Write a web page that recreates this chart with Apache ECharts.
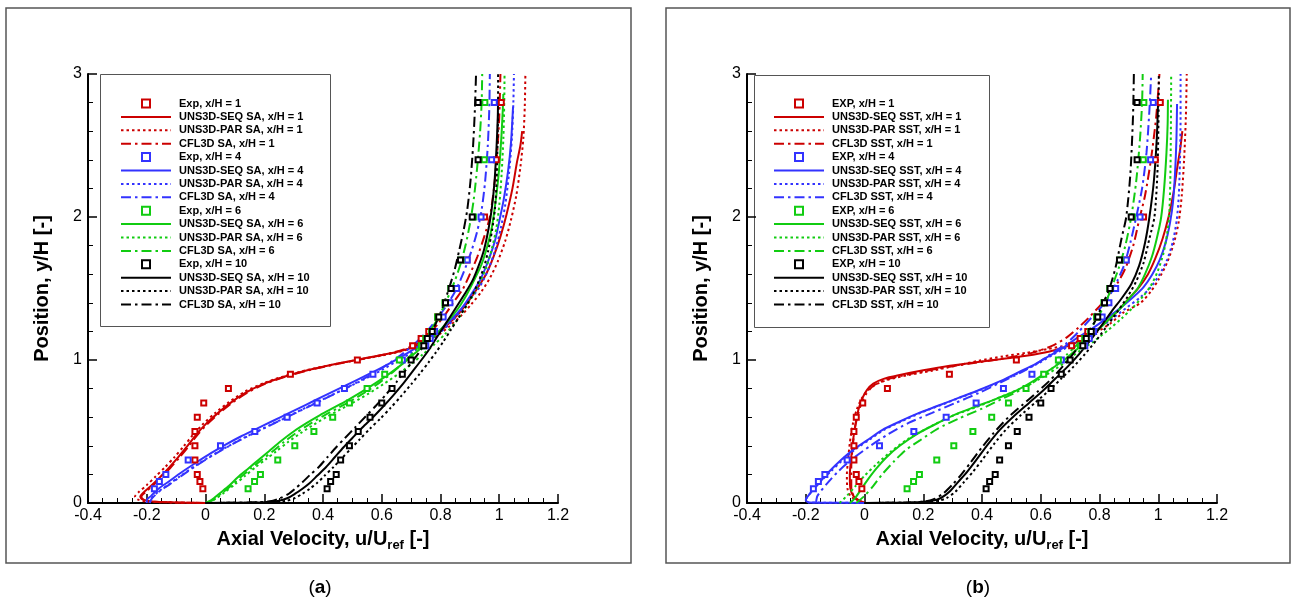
<!DOCTYPE html>
<html><head><meta charset="utf-8">
<script src="https://cdn.jsdelivr.net/npm/echarts@6/dist/echarts.min.js"></script>
<style>html,body{margin:0;padding:0;background:#fff}#c{width:1292px;height:608px}</style>
</head><body><div id="c"></div>
<script>
// ---------- axis ticks ----------
const xTicks = [-0.4, -0.2, 0, 0.2, 0.4, 0.6, 0.8, 1, 1.2];
const yTicks = [0, 1, 2, 3];

// ---------- experimental data (same in both panels) ----------
const expY   = [0.1,0.15,0.2,0.3,0.4,0.5,0.6,0.7,0.8,0.9,1.0,1.1,1.15,1.2,1.3,1.4,1.5,1.7,2.0,2.4,2.8];
const exp1U  = [-0.009,-0.019,-0.028,-0.036,-0.036,-0.036,-0.028,-0.006,0.078,0.289,0.517,0.705,0.734,0.76,0.79,0.82,0.845,0.89,0.95,0.99,1.007];
const exp4U  = [-0.174,-0.157,-0.135,-0.059,0.051,0.168,0.278,0.38,0.473,0.57,0.67,0.75,0.765,0.78,0.809,0.832,0.855,0.891,0.938,0.974,0.983];
const exp6U  = [0.145,0.167,0.187,0.246,0.304,0.369,0.433,0.49,0.55,0.61,0.66,0.735,0.75,0.77,0.79,0.815,0.835,0.87,0.912,0.949,0.951];
const exp10U = [0.414,0.426,0.445,0.46,0.49,0.52,0.56,0.60,0.635,0.67,0.70,0.743,0.755,0.772,0.794,0.817,0.836,0.868,0.908,0.928,0.928];

// ---------- (a) SA model, [u/Uref, y/H] ----------
const saSeq1 = [[0,0],[-0.1,0.004],[-0.18,0.01],[-0.215,0.025],[-0.222,0.045],[-0.21,0.075],[-0.185,0.12],[-0.155,0.18],[-0.125,0.245],[-0.095,0.315],[-0.065,0.39],[-0.035,0.47],[0.0,0.55],[0.04,0.625],[0.085,0.70],[0.14,0.775],[0.2,0.835],[0.27,0.885],[0.35,0.93],[0.45,0.975],[0.55,1.015],[0.64,1.05],[0.7,1.085],[0.74,1.12],[0.78,1.17],[0.82,1.24],[0.86,1.32],[0.895,1.41],[0.925,1.5],[0.955,1.6],[0.98,1.72],[1.005,1.87],[1.025,2.02],[1.045,2.2],[1.06,2.38],[1.072,2.5],[1.078,2.6]];
const saPar1 = [[0,0],[-0.12,0.004],[-0.2,0.01],[-0.232,0.025],[-0.24,0.045],[-0.228,0.075],[-0.2,0.125],[-0.17,0.185],[-0.138,0.25],[-0.106,0.32],[-0.075,0.395],[-0.043,0.475],[-0.007,0.555],[0.033,0.63],[0.08,0.705],[0.135,0.78],[0.2,0.84],[0.27,0.888],[0.35,0.932],[0.45,0.975],[0.55,1.013],[0.64,1.048],[0.705,1.085],[0.75,1.12],[0.79,1.17],[0.83,1.235],[0.87,1.31],[0.905,1.39],[0.94,1.48],[0.97,1.58],[0.995,1.69],[1.02,1.83],[1.04,1.98],[1.058,2.15],[1.072,2.35],[1.082,2.55],[1.087,2.78],[1.089,3.0]];
const saCfl1 = [[0,0],[-0.1,0.004],[-0.18,0.01],[-0.212,0.025],[-0.218,0.045],[-0.205,0.075],[-0.18,0.12],[-0.15,0.18],[-0.12,0.245],[-0.09,0.315],[-0.06,0.39],[-0.03,0.47],[0.005,0.55],[0.045,0.625],[0.09,0.70],[0.145,0.775],[0.205,0.835],[0.275,0.885],[0.355,0.93],[0.455,0.975],[0.55,1.013],[0.635,1.05],[0.69,1.085],[0.725,1.12],[0.76,1.18],[0.79,1.25],[0.82,1.33],[0.85,1.42],[0.877,1.5],[0.9,1.6],[0.925,1.72],[0.95,1.87],[0.968,2.0],[0.982,2.2],[0.993,2.45],[1.0,2.7],[1.004,3.0]];
const saSeq4 = [[-0.2,0],[-0.2,0.02],[-0.185,0.05],[-0.16,0.1],[-0.125,0.15],[-0.085,0.21],[-0.03,0.285],[0.02,0.35],[0.07,0.41],[0.12,0.465],[0.17,0.515],[0.225,0.57],[0.28,0.625],[0.34,0.685],[0.4,0.745],[0.46,0.805],[0.52,0.865],[0.58,0.925],[0.63,0.98],[0.68,1.04],[0.72,1.09],[0.76,1.145],[0.8,1.21],[0.84,1.29],[0.875,1.37],[0.905,1.46],[0.935,1.56],[0.96,1.68],[0.985,1.83],[1.0,1.97],[1.015,2.12],[1.03,2.32],[1.04,2.52],[1.047,2.77]];
const saPar4 = [[-0.19,0],[-0.185,0.03],[-0.16,0.08],[-0.125,0.13],[-0.085,0.19],[-0.035,0.26],[0.02,0.33],[0.075,0.395],[0.13,0.455],[0.185,0.51],[0.24,0.565],[0.3,0.625],[0.36,0.685],[0.42,0.745],[0.48,0.805],[0.54,0.865],[0.6,0.93],[0.65,0.99],[0.70,1.05],[0.745,1.11],[0.785,1.17],[0.825,1.24],[0.86,1.32],[0.895,1.41],[0.93,1.5],[0.96,1.62],[0.985,1.76],[1.005,1.92],[1.02,2.08],[1.033,2.3],[1.043,2.55],[1.048,2.8],[1.05,3.0]];
const saCfl4 = [[-0.19,0],[-0.183,0.03],[-0.158,0.08],[-0.122,0.13],[-0.082,0.19],[-0.032,0.26],[0.022,0.33],[0.077,0.395],[0.132,0.455],[0.187,0.51],[0.242,0.565],[0.302,0.625],[0.362,0.685],[0.422,0.745],[0.48,0.805],[0.535,0.865],[0.59,0.93],[0.635,0.99],[0.675,1.05],[0.71,1.11],[0.74,1.17],[0.77,1.24],[0.8,1.32],[0.83,1.41],[0.855,1.5],[0.88,1.62],[0.905,1.76],[0.925,1.9],[0.94,2.05],[0.952,2.25],[0.961,2.5],[0.966,2.75],[0.968,3.0]];
const saSeq6 = [[0,0],[0.02,0.02],[0.05,0.07],[0.08,0.12],[0.11,0.18],[0.145,0.24],[0.18,0.3],[0.215,0.36],[0.255,0.43],[0.3,0.5],[0.345,0.56],[0.39,0.615],[0.435,0.665],[0.48,0.715],[0.53,0.775],[0.58,0.84],[0.63,0.91],[0.675,0.98],[0.715,1.05],[0.755,1.12],[0.79,1.19],[0.825,1.27],[0.86,1.36],[0.89,1.46],[0.915,1.56],[0.94,1.67],[0.96,1.8],[0.975,1.93],[0.987,2.1],[0.998,2.3],[1.007,2.55],[1.012,2.75],[1.014,2.86]];
const saPar6 = [[0.01,0],[0.035,0.03],[0.065,0.075],[0.1,0.13],[0.135,0.19],[0.17,0.25],[0.205,0.305],[0.24,0.36],[0.28,0.425],[0.325,0.49],[0.37,0.55],[0.415,0.605],[0.46,0.655],[0.505,0.705],[0.555,0.765],[0.605,0.83],[0.655,0.9],[0.7,0.97],[0.74,1.04],[0.78,1.11],[0.815,1.18],[0.85,1.26],[0.88,1.35],[0.91,1.45],[0.935,1.55],[0.958,1.66],[0.975,1.78],[0.99,1.92],[1.0,2.08],[1.008,2.3],[1.014,2.55],[1.017,2.8],[1.018,3.0]];
const saCfl6 = [[0.005,0],[0.028,0.025],[0.057,0.072],[0.09,0.125],[0.122,0.185],[0.157,0.245],[0.192,0.303],[0.228,0.36],[0.268,0.428],[0.312,0.495],[0.357,0.555],[0.402,0.61],[0.447,0.66],[0.492,0.71],[0.54,0.77],[0.588,0.835],[0.632,0.905],[0.67,0.975],[0.705,1.045],[0.735,1.115],[0.76,1.19],[0.785,1.27],[0.808,1.36],[0.83,1.46],[0.85,1.56],[0.868,1.67],[0.885,1.8],[0.9,1.95],[0.913,2.12],[0.925,2.35],[0.935,2.6],[0.94,2.8],[0.942,3.0]];
const saSeq10 = [[0,0],[0.1,0.002],[0.2,0.006],[0.25,0.015],[0.28,0.035],[0.305,0.065],[0.33,0.1],[0.355,0.14],[0.38,0.19],[0.41,0.25],[0.44,0.32],[0.47,0.39],[0.5,0.455],[0.535,0.53],[0.57,0.6],[0.605,0.675],[0.64,0.755],[0.675,0.84],[0.705,0.92],[0.735,1.0],[0.76,1.07],[0.785,1.15],[0.81,1.23],[0.835,1.31],[0.86,1.39],[0.885,1.47],[0.91,1.56],[0.93,1.66],[0.948,1.77],[0.962,1.9],[0.974,2.05],[0.984,2.25],[0.991,2.5],[0.995,2.7],[0.996,2.83]];
const saPar10 = [[0,0],[0.12,0.002],[0.22,0.006],[0.275,0.015],[0.305,0.035],[0.33,0.065],[0.355,0.1],[0.38,0.14],[0.405,0.19],[0.435,0.25],[0.465,0.315],[0.495,0.38],[0.525,0.445],[0.56,0.52],[0.595,0.59],[0.63,0.665],[0.665,0.745],[0.7,0.83],[0.73,0.905],[0.76,0.985],[0.785,1.055],[0.81,1.13],[0.835,1.21],[0.86,1.29],[0.885,1.37],[0.91,1.46],[0.93,1.55],[0.948,1.65],[0.962,1.76],[0.975,1.9],[0.985,2.05],[0.991,2.25],[0.994,2.5],[0.996,2.75],[0.996,3.0]];
const saCfl10 = [[0,0],[0.1,0.002],[0.18,0.005],[0.22,0.012],[0.25,0.03],[0.28,0.06],[0.305,0.1],[0.33,0.145],[0.355,0.195],[0.385,0.25],[0.415,0.32],[0.445,0.39],[0.475,0.455],[0.51,0.53],[0.545,0.605],[0.58,0.68],[0.615,0.76],[0.65,0.845],[0.68,0.925],[0.708,1.0],[0.733,1.07],[0.757,1.15],[0.778,1.23],[0.798,1.32],[0.816,1.42],[0.832,1.52],[0.848,1.63],[0.863,1.76],[0.878,1.9],[0.891,2.05],[0.902,2.25],[0.911,2.5],[0.917,2.75],[0.921,3.0]];

// ---------- (b) SST model, [u/Uref, y/H] ----------
const sstSeq1 = [[0,0],[-0.02,0.02],[-0.038,0.05],[-0.048,0.1],[-0.05,0.2],[-0.046,0.3],[-0.04,0.42],[-0.031,0.55],[-0.021,0.65],[-0.008,0.73],[0.008,0.79],[0.03,0.835],[0.065,0.868],[0.12,0.895],[0.2,0.928],[0.29,0.96],[0.38,0.985],[0.46,1.005],[0.55,1.03],[0.63,1.06],[0.69,1.095],[0.74,1.14],[0.785,1.2],[0.825,1.27],[0.865,1.35],[0.9,1.43],[0.935,1.51],[0.965,1.6],[0.99,1.71],[1.015,1.85],[1.035,2.0],[1.052,2.17],[1.065,2.35],[1.075,2.48],[1.082,2.6]];
const sstPar1 = [[0,0],[-0.028,0.02],[-0.048,0.05],[-0.058,0.1],[-0.06,0.2],[-0.056,0.3],[-0.05,0.42],[-0.04,0.55],[-0.027,0.65],[-0.01,0.73],[0.01,0.785],[0.04,0.83],[0.085,0.865],[0.15,0.895],[0.23,0.925],[0.31,0.96],[0.39,0.995],[0.47,1.025],[0.55,1.05],[0.62,1.075],[0.69,1.105],[0.745,1.145],[0.795,1.2],[0.84,1.26],[0.88,1.33],[0.94,1.4],[0.975,1.48],[1.0,1.56],[1.03,1.68],[1.055,1.83],[1.07,1.97],[1.08,2.15],[1.088,2.4],[1.094,2.7],[1.097,3.0]];
const sstCfl1 = [[0,0],[-0.03,0.03],[-0.045,0.1],[-0.045,0.25],[-0.04,0.4],[-0.03,0.55],[-0.015,0.67],[0.005,0.76],[0.03,0.82],[0.07,0.86],[0.15,0.9],[0.25,0.94],[0.36,0.975],[0.47,1.01],[0.57,1.05],[0.64,1.1],[0.69,1.16],[0.73,1.23],[0.77,1.31],[0.81,1.4],[0.84,1.48],[0.865,1.55],[0.89,1.65],[0.915,1.8],[0.935,1.98],[0.955,2.15],[0.975,2.4],[0.993,2.7],[1.004,3.0]];
const sstSeq4 = [[0,0],[-0.1,0.002],[-0.19,0.004],[-0.2,0.02],[-0.18,0.08],[-0.15,0.15],[-0.12,0.22],[-0.08,0.3],[-0.04,0.37],[0.01,0.44],[0.06,0.51],[0.12,0.57],[0.18,0.625],[0.25,0.68],[0.32,0.735],[0.39,0.79],[0.46,0.85],[0.52,0.91],[0.58,0.97],[0.63,1.03],[0.68,1.09],[0.72,1.15],[0.775,1.22],[0.83,1.3],[0.875,1.37],[0.915,1.44],[0.95,1.51],[0.98,1.6],[1.005,1.7],[1.025,1.82],[1.04,1.96],[1.05,2.1],[1.057,2.3],[1.062,2.55],[1.064,2.79]];
const sstPar4 = [[0,0],[-0.1,0.002],[-0.19,0.004],[-0.2,0.02],[-0.18,0.08],[-0.15,0.15],[-0.115,0.22],[-0.075,0.3],[-0.035,0.37],[0.015,0.44],[0.065,0.51],[0.125,0.57],[0.19,0.63],[0.26,0.685],[0.33,0.74],[0.40,0.795],[0.47,0.855],[0.53,0.915],[0.59,0.975],[0.64,1.035],[0.69,1.09],[0.74,1.15],[0.795,1.22],[0.85,1.3],[0.895,1.37],[0.94,1.44],[0.975,1.51],[1.005,1.6],[1.03,1.7],[1.05,1.83],[1.063,1.98],[1.07,2.15],[1.074,2.4],[1.076,2.7],[1.076,3.0]];
const sstCfl4 = [[-0.165,0],[-0.16,0.05],[-0.13,0.13],[-0.09,0.22],[-0.04,0.31],[0.02,0.4],[0.08,0.48],[0.15,0.56],[0.23,0.63],[0.31,0.7],[0.39,0.77],[0.46,0.84],[0.53,0.91],[0.59,0.98],[0.64,1.05],[0.69,1.12],[0.73,1.2],[0.77,1.29],[0.81,1.38],[0.84,1.47],[0.86,1.55],[0.885,1.67],[0.905,1.82],[0.925,2.0],[0.945,2.2],[0.96,2.45],[0.97,2.75],[0.976,3.0]];
const sstSeq6 = [[-0.05,0],[-0.03,0.04],[-0.01,0.1],[0.01,0.16],[0.04,0.24],[0.075,0.32],[0.12,0.4],[0.185,0.49],[0.25,0.56],[0.31,0.62],[0.38,0.675],[0.45,0.73],[0.52,0.79],[0.58,0.86],[0.63,0.93],[0.68,1.0],[0.72,1.07],[0.76,1.14],[0.8,1.22],[0.84,1.3],[0.875,1.37],[0.905,1.44],[0.93,1.5],[0.955,1.6],[0.978,1.72],[0.995,1.85],[1.01,2.0],[1.02,2.2],[1.028,2.45],[1.032,2.65],[1.033,2.82]];
const sstPar6 = [[-0.085,0],[-0.06,0.05],[-0.03,0.12],[0.0,0.19],[0.04,0.27],[0.09,0.36],[0.15,0.45],[0.22,0.53],[0.3,0.61],[0.38,0.67],[0.45,0.73],[0.52,0.79],[0.58,0.85],[0.63,0.91],[0.68,0.98],[0.73,1.06],[0.78,1.13],[0.83,1.21],[0.875,1.29],[0.915,1.37],[0.95,1.45],[0.975,1.52],[0.998,1.62],[1.017,1.74],[1.03,1.88],[1.037,2.0],[1.041,2.25],[1.043,2.6],[1.044,3.0]];
const sstCfl6 = [[-0.028,0],[0.0,0.05],[0.03,0.12],[0.06,0.2],[0.1,0.29],[0.14,0.37],[0.19,0.44],[0.25,0.52],[0.32,0.59],[0.4,0.66],[0.47,0.73],[0.54,0.8],[0.6,0.88],[0.65,0.96],[0.69,1.04],[0.73,1.12],[0.765,1.21],[0.795,1.3],[0.82,1.4],[0.84,1.5],[0.865,1.64],[0.888,1.8],[0.908,2.0],[0.925,2.25],[0.938,2.55],[0.945,2.8],[0.947,3.0]];
const sstSeq10 = [[0,0],[0.1,0.002],[0.18,0.006],[0.23,0.015],[0.26,0.035],[0.29,0.08],[0.32,0.15],[0.35,0.22],[0.38,0.3],[0.42,0.41],[0.46,0.51],[0.51,0.61],[0.56,0.7],[0.61,0.79],[0.65,0.87],[0.69,0.95],[0.73,1.04],[0.77,1.14],[0.81,1.25],[0.845,1.35],[0.875,1.43],[0.908,1.53],[0.935,1.66],[0.955,1.82],[0.97,2.0],[0.985,2.25],[0.995,2.55],[1.0,2.84]];
const sstPar10 = [[0,0],[0.12,0.002],[0.2,0.006],[0.25,0.015],[0.28,0.035],[0.31,0.08],[0.34,0.15],[0.37,0.22],[0.40,0.3],[0.44,0.41],[0.48,0.51],[0.53,0.61],[0.58,0.7],[0.63,0.79],[0.67,0.87],[0.71,0.95],[0.75,1.04],[0.79,1.14],[0.83,1.25],[0.865,1.35],[0.895,1.44],[0.925,1.55],[0.95,1.68],[0.97,1.85],[0.987,2.0],[0.997,2.3],[1.001,2.7],[1.002,3.0]];
const sstCfl10 = [[0,0],[0.1,0.002],[0.17,0.005],[0.21,0.012],[0.24,0.03],[0.27,0.07],[0.3,0.13],[0.33,0.2],[0.36,0.28],[0.4,0.39],[0.44,0.49],[0.49,0.6],[0.54,0.69],[0.59,0.78],[0.635,0.865],[0.675,0.955],[0.715,1.055],[0.755,1.165],[0.787,1.28],[0.813,1.4],[0.834,1.5],[0.855,1.65],[0.875,1.85],[0.891,2.0],[0.905,2.3],[0.914,2.7],[0.917,3.0]];

// ---------- legend labels ----------
const namesA = ['Exp, x/H = 1','UNS3D-SEQ SA, x/H = 1','UNS3D-PAR SA, x/H = 1','CFL3D SA, x/H = 1',
  'Exp, x/H = 4','UNS3D-SEQ SA, x/H = 4','UNS3D-PAR SA, x/H = 4','CFL3D SA, x/H = 4',
  'Exp, x/H = 6','UNS3D-SEQ SA, x/H = 6','UNS3D-PAR SA, x/H = 6','CFL3D SA, x/H = 6',
  'Exp, x/H = 10','UNS3D-SEQ SA, x/H = 10','UNS3D-PAR SA, x/H = 10','CFL3D SA, x/H = 10'];
const namesB = ['EXP, x/H = 1','UNS3D-SEQ SST, x/H = 1','UNS3D-PAR SST, x/H = 1','CFL3D SST, x/H = 1',
  'EXP, x/H = 4','UNS3D-SEQ SST, x/H = 4','UNS3D-PAR SST, x/H = 4','CFL3D SST, x/H = 4',
  'EXP, x/H = 6','UNS3D-SEQ SST, x/H = 6','UNS3D-PAR SST, x/H = 6','CFL3D SST, x/H = 6',
  'EXP, x/H = 10','UNS3D-SEQ SST, x/H = 10','UNS3D-PAR SST, x/H = 10','CFL3D SST, x/H = 10'];

// ---------- styling ----------
const COLORS = ['#cc0000', '#3333ff', '#11cc11', '#000000'];
const DOT = [2.5, 3];
const DASHDOT = [10, 4, 2.5, 4];
const FONT = 'Liberation Sans, Arial, Helvetica, sans-serif';

const expSets = [exp1U, exp4U, exp6U, exp10U];
const curvesA = [[saSeq1, saPar1, saCfl1],[saSeq4, saPar4, saCfl4],[saSeq6, saPar6, saCfl6],[saSeq10, saPar10, saCfl10]];
const curvesB = [[sstSeq1, sstPar1, sstCfl1],[sstSeq4, sstPar4, sstCfl4],[sstSeq6, sstPar6, sstCfl6],[sstSeq10, sstPar10, sstCfl10]];

function buildSeries(names, curves, gi) {
  const out = [];
  for (let k = 0; k < 4; k++) {
    const c = COLORS[k];
    out.push({
      name: names[4*k], type: 'line', xAxisIndex: gi, yAxisIndex: gi,
      data: expY.map((y, i) => [expSets[k][i], y]),
      symbol: 'emptyRect', symbolSize: 5, showSymbol: true,
      lineStyle: { width: 0, opacity: 0 },
      itemStyle: { color: c, borderColor: c, borderWidth: 2 },
      z: 5, animation: false, silent: true
    });
    const styles = ['solid', DOT, DASHDOT];
    for (let j = 0; j < 3; j++) {
      out.push({
        name: names[4*k + 1 + j], type: 'line', xAxisIndex: gi, yAxisIndex: gi,
        data: curves[k][j], smooth: 0.25, symbol: 'none', showSymbol: false,
        lineStyle: { color: c, width: 2, type: styles[j], cap: 'butt' },
        itemStyle: { color: c }, z: 3, animation: false, silent: true
      });
    }
  }
  return out;
}

function xAxisCfg(gi) {
  return {
    gridIndex: gi, type: 'value', min: xTicks[0], max: xTicks[xTicks.length-1], interval: 0.2,
    axisLine: { show: true, onZero: false, lineStyle: { color: '#000', width: 2 } },
    axisTick: { show: true, inside: true, length: 9, lineStyle: { color: '#000', width: 1.5 } },
    minorTick: { show: true, splitNumber: 4, length: 5, lineStyle: { color: '#000', width: 1 } },
    splitLine: { show: false },
    axisLabel: { color: '#000', fontSize: 16, fontFamily: FONT, margin: 5 },
    name: 'Axial Velocity, u/U{sub|ref} [-]', nameLocation: 'middle', nameGap: 24,
    nameTextStyle: { color: '#000', fontSize: 20, fontWeight: 'bold', fontFamily: FONT,
      rich: { sub: { fontSize: 13, fontWeight: 'bold', fontFamily: FONT, padding: [12, 0, 0, 0], color: '#000' } } }
  };
}
function yAxisCfg(gi) {
  return {
    gridIndex: gi, type: 'value', min: yTicks[0], max: yTicks[yTicks.length-1], interval: 1,
    axisLine: { show: true, onZero: false, lineStyle: { color: '#000', width: 2 } },
    axisTick: { show: true, inside: true, length: 9, lineStyle: { color: '#000', width: 1.5 } },
    minorTick: { show: true, splitNumber: 5, length: 5, lineStyle: { color: '#000', width: 1 } },
    splitLine: { show: false },
    axisLabel: { color: '#000', fontSize: 16, fontFamily: FONT, margin: 6 },
    name: 'Position, y/H [-]', nameLocation: 'middle', nameGap: 36, nameRotate: 90,
    nameTextStyle: { color: '#000', fontSize: 20, fontWeight: 'bold', fontFamily: FONT }
  };
}
function legendCfg(names, left) {
  return {
    data: names.map((n, i) => (i % 4 === 0)
      ? { name: n }
      : { name: n, itemStyle: { opacity: 0 } }),
    orient: 'vertical', left: left, top: 98, padding: 0,
    itemWidth: 50, itemHeight: 10, itemGap: 2.4, selectedMode: false,
    textStyle: { color: '#000', fontSize: 11, fontWeight: 'bold', fontFamily: FONT, lineHeight: 10, padding: [0,0,0,3] }
  };
}

const option = {
  animation: false,
  backgroundColor: '#fff',
  grid: [
    { left: 88, top: 74, width: 470, height: 429 },
    { left: 747, top: 74, width: 470, height: 429 }
  ],
  xAxis: [xAxisCfg(0), xAxisCfg(1)],
  yAxis: [yAxisCfg(0), yAxisCfg(1)],
  legend: [legendCfg(namesA, 120), legendCfg(namesB, 773)],
  series: buildSeries(namesA, curvesA, 0).concat(buildSeries(namesB, curvesB, 1)),
  graphic: [
    { type: 'rect', shape: { x: 6, y: 8, width: 625, height: 555 }, style: { fill: 'none', stroke: '#555', lineWidth: 1.5 }, silent: true, z: -1 },
    { type: 'rect', shape: { x: 666, y: 8, width: 624, height: 555 }, style: { fill: 'none', stroke: '#555', lineWidth: 1.5 }, silent: true, z: -1 },
    { type: 'rect', shape: { x: 100.5, y: 74.5, width: 230, height: 252 }, style: { fill: '#fff', stroke: '#555', lineWidth: 1 }, silent: true, z: 0 },
    { type: 'rect', shape: { x: 754.5, y: 75.5, width: 235, height: 252 }, style: { fill: '#fff', stroke: '#555', lineWidth: 1 }, silent: true, z: 0 },
    { type: 'text', x: 320, y: 588, style: { text: '({b|a})', fontSize: 19, fontFamily: FONT, fill: '#000', align: 'center', verticalAlign: 'middle',
        rich: { b: { fontSize: 19, fontWeight: 'bold', fontFamily: FONT } } }, silent: true },
    { type: 'text', x: 978, y: 588, style: { text: '({b|b})', fontSize: 19, fontFamily: FONT, fill: '#000', align: 'center', verticalAlign: 'middle',
        rich: { b: { fontSize: 19, fontWeight: 'bold', fontFamily: FONT } } }, silent: true }
  ]
};

const chart = echarts.init(document.getElementById('c'), null, { renderer: 'canvas' });
chart.setOption(option);
</script></body></html>
